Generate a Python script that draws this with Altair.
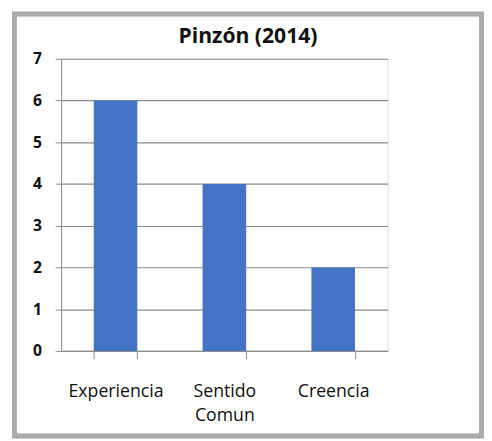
import altair as alt
import pandas as pd

categories = ["Experiencia", "Sentido\nComun", "Creencia"]
values = [6, 4, 2]
y_ticks = [0, 1, 2, 3, 4, 5, 6, 7]
title_text = "Pinzón (2014)"

df = pd.DataFrame({"cat": categories, "val": values})

FONT = "Open Sans"
GRID = "#8c8c8c"
W, H = 332, 297

bars = alt.Chart(df).mark_bar(color="#4472C4").encode(
    x=alt.X("cat:N", sort=categories, title=None,
            scale=alt.Scale(paddingInner=0.6, paddingOuter=0.3),
            axis=alt.Axis(labelAngle=0, labelExpr="split(datum.label, '\\n')",
                          tickBand="extent", tickSize=8, tickColor=GRID,
                          domainColor=GRID, labelFont=FONT, labelFontSize=18,
                          labelColor="#111111", labelPadding=24,
                          labelLineHeight=25, labelBaseline="top", grid=False)),
    y=alt.Y("val:Q", title=None,
            scale=alt.Scale(domain=[0, 7], nice=False),
            axis=alt.Axis(values=y_ticks, tickSize=6, tickColor=GRID,
                          domainColor=GRID, gridColor=GRID, gridWidth=1.2,
                          labelFont=FONT, labelFontSize=16, labelFontWeight="bold",
                          labelColor="#111111", labelPadding=14,
                          labelBaseline="middle")),
)

frame = alt.Chart(df).mark_rect(
    fill=None, stroke="#ababab", strokeWidth=4.5
).encode(
    x=alt.value(-47.5), x2=alt.value(427.5),
    y=alt.value(-45.5), y2=alt.value(383.5),
)

chart = alt.layer(frame, bars).properties(
    width=W, height=H,
    title=alt.TitleParams(title_text, font=FONT, fontSize=21.5, fontWeight="bold",
                          color="#111111", anchor="middle", dx=24, offset=-53,
                          baseline="alphabetic"),
    autosize=alt.AutoSizeParams(type="none"),
    padding={"left": 54, "top": 48, "right": 98, "bottom": 88},
).configure_view(stroke=None).configure(background="white")

chart.save("out.html", embed_options={"renderer": "svg", "actions": False})
